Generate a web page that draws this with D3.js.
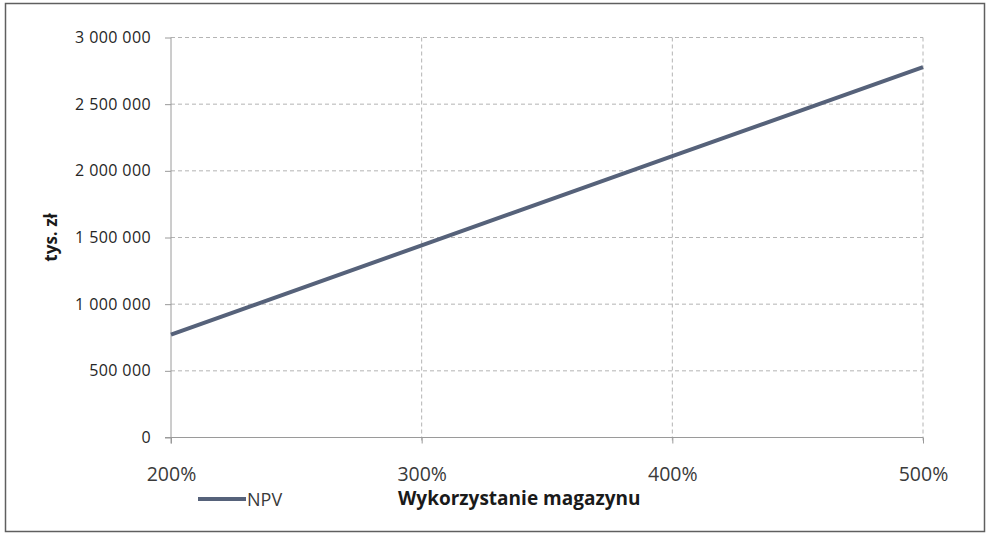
<!DOCTYPE html>
<html><head><meta charset="utf-8">
<script src="https://cdn.jsdelivr.net/npm/d3@7"></script>
<style>html,body{margin:0;padding:0;background:#fff;}svg{display:block;}</style>
</head><body><svg id="c" width="986" height="533"></svg>
<script>
const categories = ["200%", "300%", "400%", "500%"];
const npvValues = [772000, 1441000, 2110000, 2778000];
const yTicks = [0, 500000, 1000000, 1500000, 2000000, 2500000, 3000000];
const seriesName = "NPV";
const xTitle = "Wykorzystanie magazynu";
const yTitle = "tys. zł";

const svg = d3.select("#c");
svg.append("rect").attr("x", 5.5).attr("y", 3.5).attr("width", 979).attr("height", 528)
  .attr("fill", "#fff").attr("stroke", "#5f5f5f").attr("stroke-width", 1.5);

const L = 171, R = 923, T = 37.5, B = 437.5;
const x = d3.scalePoint().domain(categories).range([L, R]);
const y = d3.scaleLinear().domain([0, 3000000]).range([B, T]);
const fmt = v => d3.format(",")(v).replace(/,/g, " ");

// horizontal gridlines
svg.append("g").selectAll("line").data(yTicks.filter(d => d > 0)).join("line")
  .attr("x1", L).attr("x2", R).attr("y1", d => y(d)).attr("y2", d => y(d))
  .attr("stroke", "#b4b4b4").attr("stroke-dasharray", "4,3").attr("stroke-width", 1);
// vertical gridlines
svg.append("g").selectAll("line").data(categories.slice(1)).join("line")
  .attr("x1", d => x(d)).attr("x2", d => x(d)).attr("y1", T).attr("y2", B + 6)
  .attr("stroke", "#b4b4b4").attr("stroke-dasharray", "4,3").attr("stroke-width", 1);

// y axis
const yAxis = d3.axisLeft(y).tickValues(yTicks).tickFormat(fmt).tickSize(6).tickPadding(14);
const gy = svg.append("g").attr("transform", `translate(${L},0)`).call(yAxis);
gy.select(".domain").attr("stroke", "#9a9a9a").attr("d", `M0,${T}V${B + 6}`);
gy.selectAll(".tick line").attr("stroke", "#9a9a9a");
gy.selectAll(".tick text").attr("font-family", "'Open Sans', sans-serif").attr("font-size", 16)
  .attr("fill", "#262626").attr("letter-spacing", "0.4px");

// x axis
const xAxis = d3.axisBottom(x).tickSize(6).tickPadding(14).tickFormat(d => d);
const gx = svg.append("g").attr("transform", `translate(0,${B})`).call(xAxis);
gx.select(".domain").attr("stroke", "#9a9a9a").attr("d", `M${L - 6},0H${R}`);
gx.selectAll(".tick line").attr("stroke", "#9a9a9a");
gx.selectAll(".tick text").attr("font-family", "'Open Sans', sans-serif").attr("font-size", 19.5)
  .attr("fill", "#3a3a3a").attr("dy", "1.2em");

// line
const line = d3.line().x((d, i) => x(categories[i])).y(d => y(d));
svg.append("path").datum(npvValues).attr("d", line).attr("fill", "none")
  .attr("stroke", "#56627a").attr("stroke-width", 4).attr("stroke-linecap", "butt");

// y title
svg.append("text").attr("transform", `translate(57,${(T + B) / 2}) rotate(-90)`)
  .attr("text-anchor", "middle").attr("font-family", "'Open Sans', sans-serif")
  .attr("font-weight", "bold").attr("font-size", 17).attr("fill", "#1a1a1a").text(yTitle);

// legend
svg.append("line").attr("x1", 198).attr("x2", 246).attr("y1", 499).attr("y2", 499)
  .attr("stroke", "#56627a").attr("stroke-width", 4);
svg.append("text").attr("x", 247).attr("y", 505.5).attr("font-family", "'Open Sans', sans-serif")
  .attr("font-size", 18).attr("fill", "#3a3a3a").text(seriesName);

// x title
svg.append("text").attr("x", 398).attr("y", 505).attr("font-family", "'Open Sans', sans-serif")
  .attr("font-weight", "bold").attr("font-size", 19).attr("fill", "#1a1a1a").text(xTitle);
</script></body></html>
